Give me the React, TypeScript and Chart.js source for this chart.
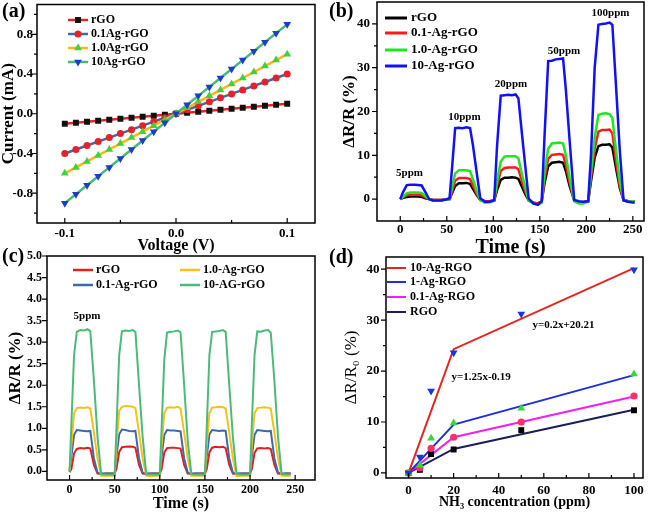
import React, { useEffect, useRef } from "react";
import { Chart, registerables } from "chart.js";

Chart.register(...registerables);

const SERIF = "'Liberation Serif', 'DejaVu Serif', 'Times New Roman', serif";

// ---------------- Panel (a): I-V curves ----------------
const A_VOLTAGE = [-0.10, -0.09, -0.08, -0.07, -0.06, -0.05, -0.04, -0.03, -0.02, -0.01, 0, 0.01, 0.02, 0.03, 0.04, 0.05, 0.06, 0.07, 0.08, 0.09, 0.10];
const A_RGO = [-0.10, -0.09, -0.08, -0.07, -0.06, -0.05, -0.04, -0.03, -0.02, -0.01, 0, 0.01, 0.02, 0.03, 0.04, 0.05, 0.06, 0.07, 0.08, 0.09, 0.10];
const A_01AG = [-0.40, -0.36, -0.32, -0.28, -0.24, -0.20, -0.16, -0.12, -0.08, -0.04, 0, 0.04, 0.08, 0.12, 0.16, 0.20, 0.24, 0.28, 0.32, 0.36, 0.40];
const A_1AG = [-0.60, -0.54, -0.48, -0.42, -0.36, -0.30, -0.24, -0.18, -0.12, -0.06, 0, 0.06, 0.12, 0.18, 0.24, 0.30, 0.36, 0.42, 0.48, 0.54, 0.60];
const A_10AG = [-0.90, -0.81, -0.72, -0.63, -0.54, -0.45, -0.36, -0.27, -0.18, -0.09, 0, 0.09, 0.18, 0.27, 0.36, 0.45, 0.54, 0.63, 0.72, 0.81, 0.90];
const A_LABELS = ["rGO", "0.1Ag-rGO", "1.0Ag-rGO", "10Ag-rGO"];
const A_X_TICKS = [-0.1, 0, 0.1];
const A_Y_TICKS = [-0.8, -0.4, 0, 0.4, 0.8];

// ---------------- Panel (b): response to 5-100 ppm ----------------
const B_TIME = [
  0, 3, 7, 11, 15, 19, 23, 27, 31, 35, 39, 44, 49,
  53, 56, 59, 63, 67, 71, 75, 78, 82, 86, 91, 96,
  101, 104, 108, 112, 116, 120, 124, 127, 131, 134, 138, 143, 148,
  152, 155, 159, 163, 167, 171, 175, 178, 182, 187, 192, 197,
  202, 205, 209, 213, 217, 221, 225, 228, 232, 236, 240, 245, 250, 252,
];
const B_10AG = [
  0, 1.6, 3.2, 3.3, 3.3, 3.2, 3.1, 1.6, 0.0, -0.3, -0.3, -0.3, -0.1,
  0.2, 8.0, 16.2, 16.3, 16.2, 16.4, 16.2, 12.5, 6.3, 0.2, -0.6, -0.6,
  -0.3, 12.0, 23.6, 23.7, 23.8, 23.7, 23.9, 23.0, 14.5, 8.3, 0.1, -1.0, -1.3,
  -0.5, 14.0, 31.5, 31.6, 31.9, 32.0, 32.1, 25.0, 13.5, -0.2, -0.5, -0.6,
  -0.5, 10.0, 30.0, 39.8, 40.0, 40.1, 40.3, 39.8, 25.5, 11.0, -0.3, -0.6, -0.8, -0.8,
];
const B_1AG = [
  0, 0.6, 1.3, 1.5, 1.5, 1.5, 1.4, 0.7, 0.0, -0.3, -0.3, -0.3, -0.1,
  0.0, 3.0, 5.8, 6.6, 6.6, 6.6, 6.4, 4.6, 2.0, -0.2, -0.8, -0.7,
  -0.4, 4.0, 8.5, 9.7, 9.8, 9.8, 9.8, 9.3, 5.5, 3.0, -0.3, -1.0, -1.2,
  -0.8, 6.0, 11.5, 12.7, 12.8, 12.9, 12.7, 10.0, 5.0, -0.5, -1.0, -1.0,
  -0.6, 6.0, 14.0, 19.2, 19.5, 19.6, 19.4, 18.5, 11.0, 4.0, -0.2, -0.6, -0.5, -0.5,
];
const B_01AG = [
  0, 0.4, 0.9, 1.0, 1.0, 1.0, 0.9, 0.4, 0.0, -0.2, -0.2, -0.2, -0.1,
  0.0, 2.0, 4.2, 4.8, 4.8, 4.8, 4.6, 3.2, 1.3, -0.2, -0.5, -0.5,
  -0.3, 3.0, 6.4, 7.1, 7.2, 7.2, 7.2, 6.8, 4.0, 2.0, -0.3, -0.8, -1.0,
  -0.6, 4.5, 9.2, 10.1, 10.2, 10.3, 10.1, 7.8, 3.8, -0.3, -0.7, -0.7,
  -0.5, 5.0, 11.5, 15.4, 15.8, 15.8, 15.9, 15.0, 8.5, 3.0, -0.2, -0.5, -0.5, -0.5,
];
const B_RGO = [
  0, 0.3, 0.5, 0.6, 0.6, 0.6, 0.5, 0.2, 0.0, -0.2, -0.2, -0.2, -0.1,
  0.0, 1.5, 3.0, 3.6, 3.6, 3.7, 3.5, 2.4, 1.0, -0.2, -0.5, -0.5,
  -0.3, 2.0, 4.4, 4.9, 4.9, 5.0, 4.9, 4.6, 2.7, 1.3, -0.3, -0.8, -1.0,
  -0.6, 3.5, 7.5, 8.3, 8.4, 8.5, 8.3, 6.4, 3.0, -0.3, -0.7, -0.7,
  -0.5, 4.0, 9.5, 12.1, 12.4, 12.4, 12.5, 11.8, 7.0, 2.5, -0.2, -0.5, -0.5, -0.5,
];
const B_LABELS = ["rGO", "0.1-Ag-rGO", "1.0-Ag-rGO", "10-Ag-rGO"];
const B_CONC = ["5ppm", "10ppm", "20ppm", "50ppm", "100ppm"];
const B_X_TICKS = [0, 50, 100, 150, 200, 250];
const B_Y_TICKS = [0, 10, 20, 30, 40];

// ---------------- Panel (c): repeated 5 ppm cycles ----------------
const C_TIME = [
  0, 2, 5, 8, 12, 16, 20, 23, 27, 31, 35, 40, 45,
  50, 52, 55, 58, 62, 66, 70, 73, 77, 81, 85, 90, 95,
  100, 102, 105, 108, 112, 116, 120, 123, 127, 131, 135, 140, 145,
  150, 152, 155, 158, 162, 166, 170, 173, 177, 181, 185, 190, 195,
  200, 202, 205, 208, 212, 216, 220, 223, 227, 231, 235, 240, 245,
];
const C_10AG = [
  0.0, 1.1, 2.7, 3.24, 3.28, 3.27, 3.30, 3.25, 2.1, 0.8, -0.07, -0.08, -0.08,
  -0.08, 1.0, 2.7, 3.25, 3.27, 3.26, 3.28, 3.24, 2.0, 0.8, -0.07, -0.07, -0.08,
  -0.07, 1.0, 2.6, 3.22, 3.24, 3.25, 3.27, 3.23, 2.0, 0.7, -0.07, -0.08, -0.07,
  -0.08, 1.0, 2.7, 3.24, 3.25, 3.26, 3.28, 3.24, 2.0, 0.8, -0.06, -0.08, -0.08,
  -0.07, 1.1, 2.7, 3.25, 3.24, 3.27, 3.28, 3.22, 2.1, 0.8, -0.06, -0.07, -0.07,
];
const C_1AG = [
  0.0, 0.6, 1.35, 1.47, 1.48, 1.47, 1.49, 1.46, 0.9, 0.3, -0.1, -0.1, -0.1,
  -0.1, 0.6, 1.4, 1.50, 1.52, 1.51, 1.50, 1.47, 0.9, 0.3, -0.1, -0.11, -0.1,
  -0.1, 0.6, 1.35, 1.48, 1.49, 1.48, 1.50, 1.46, 0.9, 0.3, -0.1, -0.1, -0.1,
  -0.1, 0.6, 1.35, 1.48, 1.49, 1.50, 1.49, 1.46, 0.9, 0.3, -0.11, -0.1, -0.1,
  -0.1, 0.6, 1.35, 1.47, 1.48, 1.49, 1.48, 1.46, 0.9, 0.3, -0.1, -0.1, -0.1,
];
const C_01AG = [
  0.0, 0.35, 0.85, 0.96, 0.95, 0.94, 0.93, 0.94, 0.3, -0.03, -0.05, -0.05, -0.05,
  -0.05, 0.35, 0.86, 0.97, 0.96, 0.94, 0.93, 0.94, 0.3, -0.03, -0.05, -0.05, -0.05,
  -0.05, 0.34, 0.85, 0.96, 0.95, 0.95, 0.94, 0.93, 0.3, -0.03, -0.05, -0.05, -0.05,
  -0.05, 0.35, 0.86, 0.96, 0.95, 0.94, 0.95, 0.94, 0.3, -0.03, -0.05, -0.05, -0.05,
  -0.05, 0.35, 0.85, 0.96, 0.95, 0.94, 0.93, 0.94, 0.3, -0.03, -0.05, -0.05, -0.05,
];
const C_RGO = [
  -0.02, 0.05, 0.42, 0.52, 0.54, 0.53, 0.55, 0.53, 0.15, -0.05, -0.06, -0.05, -0.05,
  -0.05, 0.06, 0.45, 0.56, 0.57, 0.58, 0.57, 0.55, 0.15, -0.05, -0.06, -0.05, -0.05,
  -0.05, 0.05, 0.44, 0.54, 0.55, 0.55, 0.54, 0.53, 0.15, -0.05, -0.06, -0.05, -0.05,
  -0.05, 0.05, 0.44, 0.55, 0.57, 0.56, 0.57, 0.54, 0.15, -0.05, -0.06, -0.05, -0.05,
  -0.05, 0.05, 0.43, 0.53, 0.54, 0.53, 0.54, 0.52, 0.15, -0.05, -0.06, -0.05, -0.05,
];
const C_LABELS = ["rGO", "0.1-Ag-rGO", "1.0-Ag-rGO", "10-AG-rGO"];
const C_NOTE = "5ppm";
const C_X_TICKS = [0, 50, 100, 150, 200, 250];
const C_Y_TICKS = [0, 0.5, 1.0, 1.5, 2.0, 2.5, 3.0, 3.5, 4.0, 4.5, 5.0];

// ---------------- Panel (d): response vs concentration ----------------
const D_CONC = [0, 5, 10, 20, 50, 100];
const D_10AG = [0, 3.1, 16.1, 23.6, 31.2, 39.9];
const D_1AG = [0, 1.5, 6.8, 9.8, 12.7, 19.4];
const D_01AG = [0, 1.0, 4.8, 7.0, 10.0, 15.1];
const D_RGO = [0, 0.6, 3.7, 4.6, 8.4, 12.3];
const D_FIT_X = [0, 20, 100];
const D_FIT_10AG = [0, 24.3, 40.2];
const D_FIT_1AG = [0, 9.5, 19.2];
const D_FIT_01AG = [0, 7.0, 15.0];
const D_FIT_RGO = [0, 4.7, 12.4];
const D_LABELS = ["10-Ag-RGO", "1-Ag-RGO", "0.1-Ag-RGO", "RGO"];
const D_EQUATIONS = ["y=0.2x+20.21", "y=1.25x-0.19"];
const D_X_TICKS = [0, 20, 40, 60, 80, 100];
const D_Y_TICKS = [0, 10, 20, 30, 40];

// ---------------- helpers ----------------
const pts = (xs: number[], ys: number[]) => xs.map((x, i) => ({ x, y: ys[i] }));

function drawMarker(ctx: CanvasRenderingContext2D, style: string, x: number, y: number, r: number, color: string) {
  ctx.fillStyle = color;
  ctx.beginPath();
  if (style === "rect") {
    const s = r * Math.SQRT1_2;
    ctx.rect(x - s, y - s, 2 * s, 2 * s);
  } else if (style === "circle") {
    ctx.arc(x, y, r, 0, Math.PI * 2);
  } else {
    let rad = style === "triangleDown" ? Math.PI : 0;
    ctx.moveTo(x + Math.sin(rad) * r, y - Math.cos(rad) * r);
    rad += (2 * Math.PI) / 3;
    ctx.lineTo(x + Math.sin(rad) * r, y - Math.cos(rad) * r);
    rad += (2 * Math.PI) / 3;
    ctx.lineTo(x + Math.sin(rad) * r, y - Math.cos(rad) * r);
    ctx.closePath();
  }
  ctx.fill();
}

const decorPlugin = {
  id: "decor",
  afterDraw(chart: any, _args: any, o: any) {
    const ctx: CanvasRenderingContext2D = chart.ctx;
    const { left, right, top, bottom } = chart.chartArea;
    const xs = chart.scales.x;
    const ys = chart.scales.y;
    ctx.save();
    ctx.strokeStyle = "#000";
    ctx.lineWidth = 1.5;
    ctx.strokeRect(left, top, right - left, bottom - top);
    ctx.lineWidth = 1.2;
    ctx.beginPath();
    for (const v of o.yMajor || []) {
      const p = ys.getPixelForValue(v);
      ctx.moveTo(left, p);
      ctx.lineTo(left - 5, p);
    }
    for (const v of o.yMinor || []) {
      const p = ys.getPixelForValue(v);
      ctx.moveTo(left, p);
      ctx.lineTo(left - 3, p);
    }
    for (const v of o.xMajor || []) {
      const p = xs.getPixelForValue(v);
      ctx.moveTo(p, bottom);
      ctx.lineTo(p, bottom - 5);
    }
    for (const v of o.xMinor || []) {
      const p = xs.getPixelForValue(v);
      ctx.moveTo(p, bottom);
      ctx.lineTo(p, bottom - 3);
    }
    ctx.stroke();

    ctx.fillStyle = "#000";
    ctx.textAlign = "left";
    ctx.textBaseline = "middle";
    if (o.panel) {
      ctx.font = `bold 20px ${SERIF}`;
      ctx.fillText(o.panel.text, o.panel.x, o.panel.y);
    }
    if (o.legend) {
      for (const it of o.legend.items) {
        ctx.strokeStyle = it.color;
        ctx.lineWidth = it.lw;
        ctx.beginPath();
        ctx.moveTo(it.x1, it.y);
        ctx.lineTo(it.x2, it.y);
        ctx.stroke();
        if (it.marker) drawMarker(ctx, it.marker.style, (it.x1 + it.x2) / 2, it.y, it.marker.r, it.marker.color);
        ctx.fillStyle = "#000";
        ctx.font = o.legend.font;
        ctx.textAlign = "left";
        ctx.fillText(it.label, it.tx, it.y);
      }
    }
    for (const n of o.notes || []) {
      ctx.fillStyle = "#000";
      ctx.font = n.font;
      ctx.textAlign = n.align;
      ctx.fillText(n.text, xs.getPixelForValue(n.x), ys.getPixelForValue(n.y));
    }
    ctx.restore();
  },
};

function axis(p: {
  vertical: boolean; min: number; max: number; ticks: number[]; fmt: (v: number) => string;
  size: number; tickPad: number; tickSize: number; title: string; titleSize: number; titleBold: boolean; titlePad: number;
}) {
  return {
    type: "linear",
    min: p.min,
    max: p.max,
    afterBuildTicks: (s: any) => {
      s.ticks = p.ticks.map((value) => ({ value }));
    },
    afterFit: (s: any) => {
      if (p.vertical) s.width = p.size;
      else s.height = p.size;
      s.paddingTop = 0;
      s.paddingBottom = 0;
      s.paddingLeft = 0;
      s.paddingRight = 0;
    },
    grid: { display: false, drawTicks: false },
    border: { display: false },
    ticks: {
      autoSkip: false, maxRotation: 0, minRotation: 0, padding: p.tickPad, color: "#000",
      font: { family: SERIF, size: p.tickSize, weight: "bold", lineHeight: 1 },
      callback: (v: any) => p.fmt(Number(v)),
    },
    title: {
      display: true, text: p.title, color: "#000",
      font: { family: SERIF, size: p.titleSize, weight: p.titleBold ? "bold" : "normal", lineHeight: 1 },
      padding: p.vertical ? { top: p.titlePad, bottom: 0 } : { top: 0, bottom: p.titlePad },
    },
  };
}

function baseOptions(padTop: number, padRight: number, decor: any, x: any, y: any) {
  return {
    animation: false,
    responsive: false,
    maintainAspectRatio: false,
    events: [],
    layout: { padding: { left: 0, top: padTop, right: padRight, bottom: 0 } },
    plugins: { legend: { display: false }, tooltip: { enabled: false }, decor },
    scales: { x, y },
  };
}

const fix1 = (v: number) => v.toFixed(1);
const int = (v: number) => String(Math.round(v));

// ---------------- chart builders ----------------
function buildA() {
  const series = [
    { ys: A_RGO, line: "#e4262b", mark: "#111111", style: "rect", r: 4.2, rot: 0, order: 4 },
    { ys: A_01AG, line: "#3b6ca6", mark: "#e8202a", style: "circle", r: 3.5, rot: 0, order: 3 },
    { ys: A_1AG, line: "#f8b817", mark: "#3ed33a", style: "triangle", r: 4.5, rot: 0, order: 2 },
    { ys: A_10AG, line: "#46b97c", mark: "#1c3ccc", style: "triangle", r: 4.5, rot: 180, order: 1 },
  ];
  const legendYs = [20, 34, 48, 62];
  return {
    type: "line",
    data: {
      datasets: series.map((s, i) => ({
        label: A_LABELS[i], data: pts(A_VOLTAGE, s.ys), borderColor: s.line, borderWidth: 2.5,
        pointStyle: s.style, pointRadius: s.r, pointRotation: s.rot, pointBackgroundColor: s.mark,
        pointBorderColor: s.mark, pointBorderWidth: 0, order: s.order, tension: 0,
      })),
    },
    options: baseOptions(4, 14, {
      panel: { text: "(a)", x: 2, y: 12 },
      yMajor: A_Y_TICKS, yMinor: [-1.0, -0.6, -0.2, 0.2, 0.6, 1.0],
      xMajor: A_X_TICKS, xMinor: [-0.05, 0.05],
      legend: {
        font: `bold 12px ${SERIF}`,
        items: series.map((s, i) => ({
          label: A_LABELS[i], color: s.line, lw: 2.5, x1: 68, x2: 88, tx: 91, y: legendYs[i],
          marker: { style: s.rot ? "triangleDown" : s.style, r: s.r, color: s.mark },
        })),
      },
    },
      axis({ vertical: false, min: -0.125, max: 0.125, ticks: A_X_TICKS, fmt: fix1, size: 34, tickPad: 4, tickSize: 13, title: "Voltage (V)", titleSize: 16, titleBold: true, titlePad: 3 }),
      axis({ vertical: true, min: -1.1, max: 1.1, ticks: A_Y_TICKS, fmt: fix1, size: 37, tickPad: 4, tickSize: 13, title: "Current (mA)", titleSize: 17, titleBold: true, titlePad: 0 })),
  };
}

function buildB() {
  const series = [
    { ys: B_RGO, color: "#000000", order: 4 },
    { ys: B_01AG, color: "#ff1a1a", order: 3 },
    { ys: B_1AG, color: "#1fe61f", order: 2 },
    { ys: B_10AG, color: "#1010ff", order: 1 },
  ];
  const legendYs = [18, 33, 50, 66];
  const noteX = [10, 69, 119, 176, 226];
  const noteY = [6.0, 18.6, 26.3, 33.8, 42.5];
  return {
    type: "line",
    data: {
      datasets: series.map((s, i) => ({
        label: B_LABELS[i], data: pts(B_TIME, s.ys), borderColor: s.color, borderWidth: 2.5,
        pointRadius: 0, order: s.order, tension: 0,
      })),
    },
    options: baseOptions(2, 14, {
      panel: { text: "(b)", x: 0, y: 12 },
      yMajor: B_Y_TICKS, yMinor: [5, 15, 25, 35],
      xMajor: B_X_TICKS, xMinor: [25, 75, 125, 175, 225],
      legend: {
        font: `bold 13px ${SERIF}`,
        items: series.map((s, i) => ({ label: B_LABELS[i], color: s.color, lw: 3, x1: 56, x2: 78, tx: 82, y: legendYs[i] })),
      },
      notes: B_CONC.map((t, i) => ({ text: t, x: noteX[i], y: noteY[i], align: "center", font: `bold 11px ${SERIF}` })),
    },
      axis({ vertical: false, min: -25, max: 262, ticks: B_X_TICKS, fmt: int, size: 38, tickPad: 2, tickSize: 13, title: "Time (s)", titleSize: 20, titleBold: true, titlePad: 1 }),
      axis({ vertical: true, min: -5, max: 45, ticks: B_Y_TICKS, fmt: int, size: 48, tickPad: 7, tickSize: 13, title: "ΔR/R (%)", titleSize: 17, titleBold: true, titlePad: 12 })),
  };
}

function buildC() {
  const series = [
    { ys: C_RGO, color: "#e21f1f", order: 4 },
    { ys: C_01AG, color: "#3e6aa6", order: 3 },
    { ys: C_1AG, color: "#f6c11c", order: 2 },
    { ys: C_10AG, color: "#4cbb79", order: 1 },
  ];
  const lx = [[73, 93, 96], [73, 93, 96], [180, 200, 203], [180, 200, 203]];
  const ly = [22, 37, 22, 37];
  return {
    type: "line",
    data: {
      datasets: series.map((s, i) => ({
        label: C_LABELS[i], data: pts(C_TIME, s.ys), borderColor: s.color, borderWidth: 2,
        pointRadius: 0, order: s.order, tension: 0,
      })),
    },
    options: baseOptions(8, 14, {
      panel: { text: "(c)", x: 2, y: 9 },
      yMajor: C_Y_TICKS, yMinor: [],
      xMajor: C_X_TICKS, xMinor: [25, 75, 125, 175, 225],
      legend: {
        font: `bold 12px ${SERIF}`,
        items: series.map((s, i) => ({ label: C_LABELS[i], color: s.color, lw: 2.5, x1: lx[i][0], x2: lx[i][1], tx: lx[i][2], y: ly[i] })),
      },
      notes: [{ text: C_NOTE, x: 4.4, y: 3.6, align: "left", font: `bold 11px ${SERIF}` }],
    },
      axis({ vertical: false, min: -25, max: 272, ticks: C_X_TICKS, fmt: int, size: 34, tickPad: 4, tickSize: 12, title: "Time (s)", titleSize: 16, titleBold: true, titlePad: 2 }),
      axis({ vertical: true, min: -0.2, max: 5.0, ticks: C_Y_TICKS, fmt: fix1, size: 47, tickPad: 5, tickSize: 12, title: "ΔR/R (%)", titleSize: 17, titleBold: true, titlePad: 7.5 })),
  };
}

function buildD() {
  const lines = [
    { ys: D_FIT_10AG, color: "#e8241e" },
    { ys: D_FIT_1AG, color: "#1f2fe0" },
    { ys: D_FIT_01AG, color: "#f020f0" },
    { ys: D_FIT_RGO, color: "#1c1e5a" },
  ];
  const marks = [
    { ys: D_10AG, color: "#1a35e0", style: "triangle", rot: 180, r: 4.5 },
    { ys: D_1AG, color: "#35d935", style: "triangle", rot: 0, r: 4.5 },
    { ys: D_01AG, color: "#ff2f6a", style: "circle", rot: 0, r: 3.6 },
    { ys: D_RGO, color: "#000000", style: "rect", rot: 0, r: 4.2 },
  ];
  const legendYs = [20, 34, 49, 64];
  return {
    type: "line",
    data: {
      datasets: [
        ...lines.map((s, i) => ({
          label: D_LABELS[i], data: pts(D_FIT_X, s.ys), borderColor: s.color, borderWidth: 2,
          pointRadius: 0, order: 10 + i, tension: 0,
        })),
        ...marks.map((s, i) => ({
          label: D_LABELS[i] + " data", data: pts(D_CONC, s.ys), showLine: false,
          pointStyle: s.style, pointRotation: s.rot, pointRadius: s.r,
          pointBackgroundColor: s.color, pointBorderColor: s.color, pointBorderWidth: 0, order: i,
        })),
      ],
    },
    options: baseOptions(9, 15, {
      panel: { text: "(d)", x: 0, y: 10 },
      yMajor: D_Y_TICKS, yMinor: [5, 15, 25, 35],
      xMajor: D_X_TICKS, xMinor: [10, 30, 50, 70, 90],
      legend: {
        font: `bold 12px ${SERIF}`,
        items: lines.map((s, i) => ({ label: D_LABELS[i], color: s.color, lw: 2, x1: 58, x2: 77, tx: 81, y: legendYs[i] })),
      },
      notes: [
        { text: D_EQUATIONS[0], x: 55, y: 29, align: "left", font: `bold 11px ${SERIF}` },
        { text: D_EQUATIONS[1], x: 19, y: 18.8, align: "left", font: `bold 11px ${SERIF}` },
      ],
    },
      axis({ vertical: false, min: -10, max: 104, ticks: D_X_TICKS, fmt: int, size: 36, tickPad: 6, tickSize: 13, title: "NH₃ concentration (ppm)", titleSize: 14, titleBold: true, titlePad: 5 }),
      axis({ vertical: true, min: -1, max: 42.4, ticks: D_Y_TICKS, fmt: int, size: 57, tickPad: 6.5, tickSize: 13, title: "ΔR/R₀ (%)", titleSize: 17, titleBold: false, titlePad: 14 })),
  };
}

function ChartPanel(props: { left: number; top: number; width: number; height: number; build: () => any }) {
  const ref = useRef<HTMLCanvasElement | null>(null);
  useEffect(() => {
    if (!ref.current) return;
    const cfg = props.build();
    cfg.plugins = [decorPlugin];
    const chart = new Chart(ref.current, cfg);
    return () => chart.destroy();
  }, []);
  return (
    <canvas
      ref={ref}
      width={props.width}
      height={props.height}
      style={{ position: "absolute", left: props.left, top: props.top, width: props.width, height: props.height }}
    />
  );
}

export default function App() {
  return (
    <div style={{ position: "absolute", left: 0, top: 0, width: 658, height: 514, background: "#ffffff", overflow: "hidden" }}>
      <ChartPanel left={0} top={0} width={329} height={257} build={buildA} />
      <ChartPanel left={329} top={0} width={329} height={259} build={buildB} />
      <ChartPanel left={0} top={248} width={329} height={266} build={buildC} />
      <ChartPanel left={329} top={248} width={329} height={266} build={buildD} />
    </div>
  );
}
